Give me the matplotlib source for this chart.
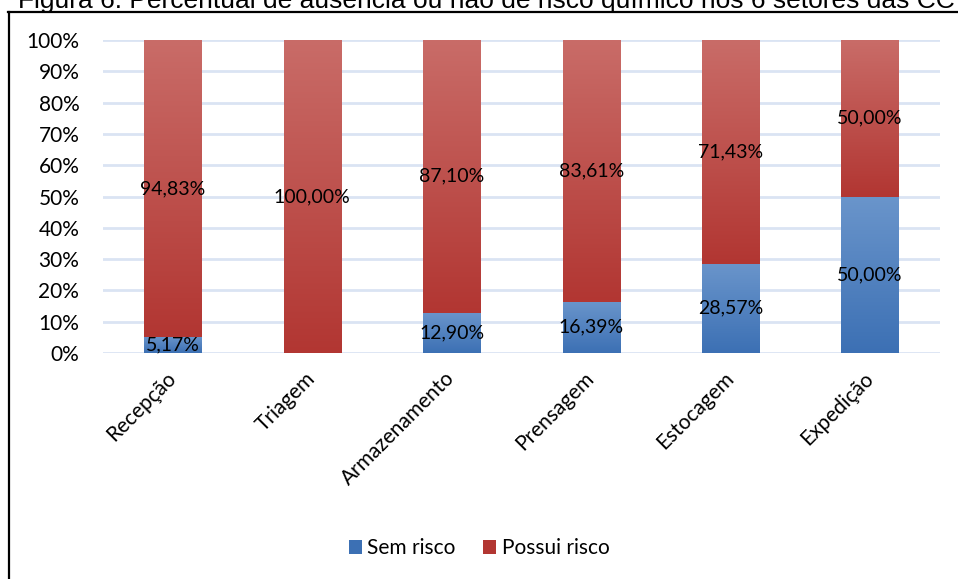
import matplotlib
matplotlib.use("Agg")
import matplotlib.pyplot as plt
import numpy as np
from matplotlib.colors import LinearSegmentedColormap
from matplotlib.lines import Line2D
from matplotlib.patches import Patch

setores = ["Recepção", "Triagem", "Armazenamento", "Prensagem", "Estocagem", "Expedição"]
sem_risco = [5.17, 0.0, 12.90, 16.39, 28.57, 50.00]
possui_risco = [94.83, 100.00, 87.10, 83.61, 71.43, 50.00]
y_ticks = [0, 10, 20, 30, 40, 50, 60, 70, 80, 90, 100]

FONT = "Lato"
plt.rcParams["font.family"] = [FONT, "DejaVu Sans"]

BLUE = ("#3c70b4", "#6a95cb")   # bottom, top
RED = ("#b23632", "#c96c68")
GRID = "#dae4f3"

fig = plt.figure(figsize=(9.58, 5.79), dpi=100)
ax = fig.add_axes([0.1075, 0.3903, 0.8735, 0.5406])

x = np.arange(len(setores))
width = 0.41
bars_sem = ax.bar(x, sem_risco, width, color=BLUE[0], label="Sem risco", zorder=2)
bars_com = ax.bar(x, possui_risco, width, bottom=sem_risco, color=RED[0],
                  label="Possui risco", zorder=2)


def fill_gradient(bars, colors):
    cmap = LinearSegmentedColormap.from_list("g", list(colors))
    grad = np.linspace(0, 1, 256).reshape(-1, 1)
    for patch in bars:
        h = patch.get_height()
        if h <= 0:
            continue
        x0 = patch.get_x()
        y0 = patch.get_y()
        img = ax.imshow(grad, cmap=cmap, origin="lower", aspect="auto",
                        extent=[x0, x0 + patch.get_width(), y0, y0 + h], zorder=2.5)
        img.set_clip_path(patch)


fill_gradient(bars_sem, BLUE)
fill_gradient(bars_com, RED)


def fmt(v):
    return f"{v:.2f}".replace(".", ",") + "%"


for i in range(len(setores)):
    if sem_risco[i] > 0:
        ax.text(x[i], sem_risco[i] / 2, fmt(sem_risco[i]), ha="center", va="center",
                fontsize=14, color="#000000", zorder=4)
    if possui_risco[i] > 0:
        ax.text(x[i], sem_risco[i] + possui_risco[i] / 2, fmt(possui_risco[i]),
                ha="center", va="center", fontsize=14, color="#000000", zorder=4)

ax.set_xlim(-0.5, len(setores) - 0.5)
ax.set_ylim(0, 100)
ax.set_yticks(y_ticks)
ax.set_yticklabels([f"{t}%" for t in y_ticks], fontsize=15)
ax.set_xticks(x)
ax.set_xticklabels(setores, rotation=45, ha="right", va="center",
                   rotation_mode="anchor", fontsize=15)
ax.tick_params(axis="both", length=0)
ax.tick_params(axis="y", pad=17)
ax.tick_params(axis="x", pad=16)
ax.grid(axis="y", color=GRID, linewidth=2, zorder=0)
ax.set_axisbelow(True)
for s in ax.spines.values():
    s.set_visible(False)

handles = [Patch(facecolor=BLUE[0]), Patch(facecolor=RED[0])]
fig.legend(handles, ["Sem risco", "Possui risco"], loc="center", ncol=2,
           bbox_to_anchor=(0.5, 1 - 548 / 579), frameon=False, fontsize=15,
           handlelength=0.65, handleheight=0.65, handletextpad=0.25, columnspacing=1.3)

# frame around the figure and the caption above it
fig.add_artist(Line2D([9 / 958, 9 / 958], [0, 1 - 12 / 579], color="black",
                      linewidth=1.6, transform=fig.transFigure))
fig.add_artist(Line2D([8 / 958, 1], [1 - 12 / 579, 1 - 12 / 579], color="black",
                      linewidth=1.6, transform=fig.transFigure))
fig.text(18 / 958, 1 - 8 / 579,
         "Figura 6: Percentual de ausência ou não de risco químico nos 6 setores das CC",
         family="Liberation Sans", fontsize=19, va="baseline", ha="left")

fig.savefig("out.png", dpi=100)
